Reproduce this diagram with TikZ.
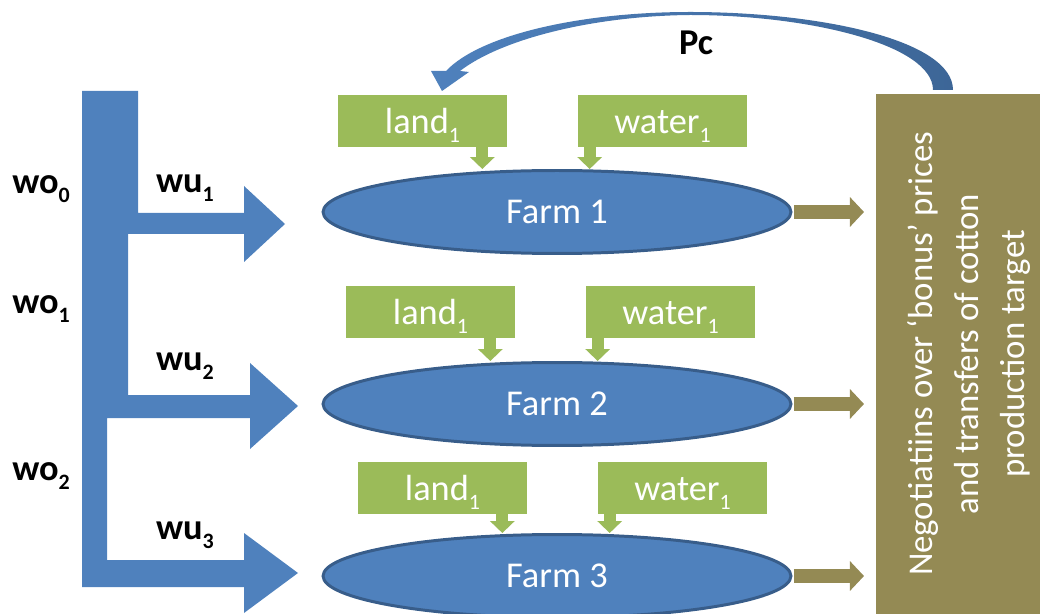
\documentclass[tikz,border=0pt]{standalone}
\usepackage{fontspec}
\setmainfont{Carlito}
\usepackage{xcolor}
\usepackage{tikz}
\usetikzlibrary{calc, positioning, arrows.meta, shapes.geometric}

\definecolor{farmblue}{HTML}{4F81BD}
\definecolor{farmedge}{HTML}{385D8A}
\definecolor{arcdark}{HTML}{3D6697}
\definecolor{inputgreen}{HTML}{9BBB59}
\definecolor{olivebox}{HTML}{948A54}

% lowered subscript, as the slide sets it
\newcommand{\lowsub}[1]{\raisebox{-0.25em}{\fontsize{12.5}{12.5}\selectfont #1}}

\tikzset{
  farm/.style={ellipse, fill=farmblue, draw=farmedge, line width=1.7pt,
    minimum width=9.36cm, minimum height=1.66cm, text=white,
    font=\fontsize{20.7}{25}\selectfont},
  inputbox/.style={fill=inputgreen, minimum width=3.38cm, minimum height=1.04cm,
    text=white, text height=20pt, text depth=6.3pt,
    font=\fontsize{20.7}{25}\selectfont},
  feed/.style={inputgreen, line width=6.8pt, -{Triangle[length=6.8pt, width=13.7pt]}},
  sale/.style={olivebox, line width=8pt, -{Triangle[length=8pt, width=16.5pt]}},
  flowlabel/.style={font=\bfseries\fontsize{20.7}{25}\selectfont},
}

\begin{document}
\begin{tikzpicture}[x=0.02cm, y=-0.02cm, every node/.style={inner sep=0pt}]
    \useasboundingbox (0,0) rectangle (1040,614);
    % Main canal with three offtakes
    \fill[farmblue] (82,91) -- (138,91) -- (138,213) -- (244,213) -- (244,186)
        -- (285,224) -- (244,262) -- (244,234) -- (128,234) -- (128,395)
        -- (250,395) -- (250,363) -- (298,406) -- (250,449) -- (250,418)
        -- (107,418) -- (107,560) -- (244,560) -- (244,533) -- (298,573)
        -- (244,613) -- (244,587) -- (82,587) -- cycle;
    % Flow labels (wo: canal, wu: offtake)
    \foreach \i/\y in {0/189,1/309,2/476} {
        \node[flowlabel] (wo\i) at (41,\y) {wo\lowsub{\i}};
    }
    \foreach \i/\y in {1/188,2/366,3/535} {
        \node[flowlabel] (wu\i) at (185,\y) {wu\lowsub{\i}};
    }
    % Farms with land and water inputs
    \foreach \r/\lx/\wx/\iy/\fy in {1/422.5/662.5/121/212, 2/430.5/670.5/312/404, 3/442.5/682.5/488/576} {
        \node[farm] (f\r) at (557,\fy) {Farm \r};
        \node[inputbox] (l\r) at (\lx,\iy) {land\lowsub{1}};
        \node[inputbox] (w\r) at (\wx,\iy) {water\lowsub{1}};
        \coordinate (l\r o) at ($(l\r.south east)+(-25,0)$);
        \coordinate (w\r o) at ($(w\r.south west)+(12,0)$);
        \draw[feed] (l\r o) -- (l\r o |- f\r.north);
        \draw[feed] (w\r o) -- (w\r o |- f\r.north);
    }
    % Negotiation box
    \node[fill=olivebox, minimum width=3.28cm, minimum height=10.4cm] (neg) at (958,354) {};
    \node[rotate=90, align=center, text=white, font=\fontsize{19.8}{26.2}\selectfont]
        (negtext) at ($(neg.center)+(11,0)$)
        {Negotiatiins over ‘bonus’ prices\\and transfers of cotton\\production target};
    % Cotton delivered by each farm
    \coordinate (saleend) at (864,0);
    \foreach \r in {1,2,3} {
        \draw[sale] ($(f\r.east)+(1.5,0)$) -- (f\r.east -| saleend);
    }
    % Price signal back to the farms
    \shade[left color=farmblue, right color=arcdark]
        (953,90) .. controls (953,40) and (820,12) .. (690,12)
        .. controls (580,12) and (480,35) .. (446,71)
        -- (431,71) -- (442,91) -- (469,72) -- (460,71)
        .. controls (500,40) and (590,16) .. (690,15)
        .. controls (810,15) and (933,45) .. (933,90) -- cycle;
    \node[flowlabel] (pc) at (696,43) {Pc};
\end{tikzpicture}
\end{document}
